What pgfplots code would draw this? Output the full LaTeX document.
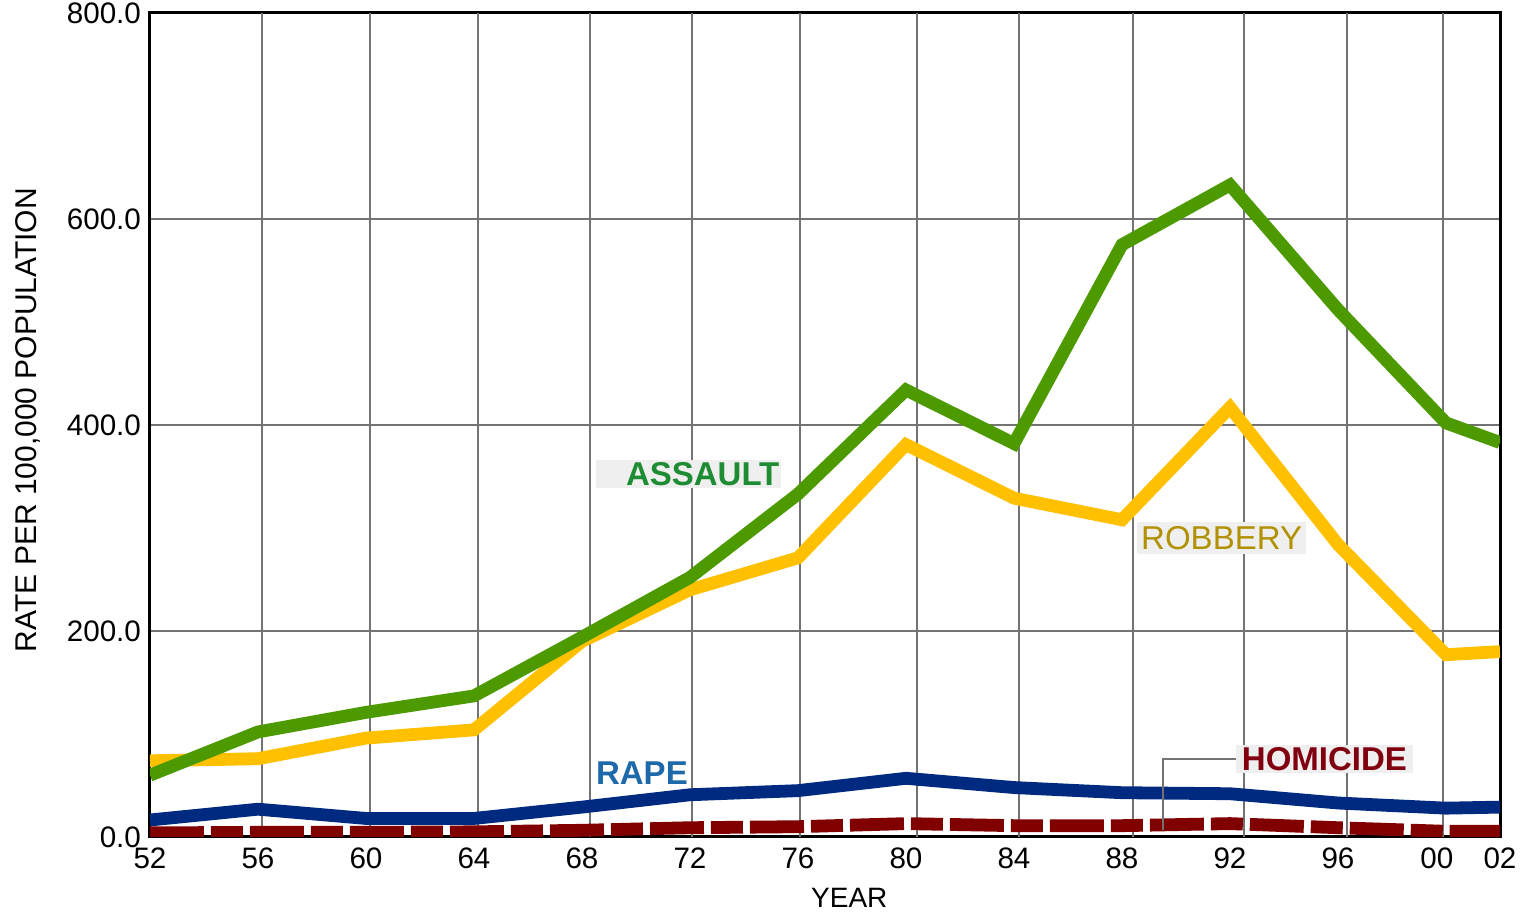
\documentclass[border=0pt]{standalone}
\usepackage{fontspec}
\setmainfont{Liberation Sans}
\usepackage{pgfplots}
\pgfplotsset{compat=1.18}
\definecolor{cAssault}{RGB}{76,153,0}
\definecolor{cRobbery}{RGB}{255,192,0}
\definecolor{cRape}{RGB}{0,42,127}
\definecolor{cHom}{RGB}{128,0,0}
\definecolor{tAssault}{RGB}{30,140,50}
\definecolor{tRobbery}{RGB}{178,145,0}
\definecolor{tRape}{RGB}{30,105,170}
\definecolor{tHom}{RGB}{128,0,16}
\definecolor{lbg}{RGB}{239,239,239}
\begin{document}
\begin{tikzpicture}
\useasboundingbox (-75pt,-39.5pt) rectangle (686pt,418.5pt);
\begin{axis}[
  at={(0,0)}, anchor=south west,
  scale only axis, width=675pt, height=412pt,
  xmin=52, xmax=102, ymin=0, ymax=800,
  axis line style={line width=1.5pt, black},
  xtick={52,56,60,64,68,72,76,80,84,88,92,96,99.66,102},
  xticklabels={52,56,60,64,68,72,76,80,84,88,92,96,00,02},
  ytick={0,200,400,600,800},
  yticklabels={0.0,200.0,400.0,600.0,800.0},
  major tick length=0pt,
  extra x ticks={56.15,60.15,64.15,68.30,72.07,76.07,80.41,84.19,88.41,92.52,96.33,99.89},
  extra x tick labels={},
  extra x tick style={grid=major},
  ymajorgrids,
  major grid style={black!55, line width=0.75pt},
  tick label style={font=\fontsize{14.8}{16}\selectfont},
  xticklabel style={yshift=-2pt},
  yticklabel style={xshift=-1pt},
  every axis y label/.style={at={([xshift=-61pt]axis description cs:0,0.506)}, rotate=90, anchor=center, font=\fontsize{15}{16}\selectfont},
  every axis x label/.style={at={([yshift=-30.5pt]axis description cs:0.518,0)}, anchor=center, font=\fontsize{14}{16}\selectfont},
  ylabel={RATE PER 100,000 POPULATION},
  xlabel={YEAR},
]
% Robbery
\addplot[cRobbery, line width=6.4pt, line join=miter] coordinates {
 (52,74) (56,76) (60,96) (64,104) (68,190) (72,240) (76,271) (80,381)
 (84,329) (88,308) (92,417) (96,284) (100,177) (102,180)};
% Assault
\addplot[cAssault, line width=6.4pt, line join=miter] coordinates {
 (52,60) (56,102) (60,121) (64,137) (68,194) (72,252) (76,333) (80,434)
 (84,382) (88,575) (92,633) (96,512) (100,402) (102,383)};
% Rape
\addplot[cRape, line width=6.4pt, line join=round] coordinates {
 (52,16.5) (56,27) (60,18) (64,18) (68,29) (72,41) (76,45) (80,57)
 (84,48) (88,43) (92,42) (96,33) (100,28) (102,29)};
% Homicide
\addplot[cHom, line width=6.4pt, line cap=butt, dash pattern=on 27pt off 3.5pt on 16pt off 3.5pt] coordinates {
 (52,4) (56,4.5) (60,4.5) (64,5) (68,6.5) (72,9) (76,10) (80,13)
 (84,11) (88,11) (92,13) (96,9) (100,5.5) (102,5.5)};

\draw[black!55, line width=0.6pt] (axis cs:92.26,75.7) -| (axis cs:89.52,6.8);

\node[fill=lbg, anchor=east, inner xsep=1pt, inner ysep=0pt, minimum height=14pt, text=tAssault, font=\fontsize{16.5}{18}\selectfont\bfseries] at (axis cs:75.4,352.4) {\hspace*{14pt}ASSAULT};
\node[fill=lbg, anchor=center, inner xsep=2pt, inner ysep=0pt, minimum height=16pt, text=tRobbery, font=\fontsize{16.5}{18}\selectfont] at (axis cs:91.69,290.3) {ROBBERY};
\node[anchor=center, inner sep=0pt, text=tRape, font=\fontsize{16.5}{18}\selectfont\bfseries] at (axis cs:70.22,62.1) {RAPE};
\node[fill=lbg, anchor=center, inner xsep=3pt, inner ysep=0pt, minimum height=14pt, text=tHom, font=\fontsize{16.5}{18}\selectfont\bfseries] at (axis cs:95.5,75.7) {HOMICIDE};
\end{axis}
\end{tikzpicture}
\end{document}
